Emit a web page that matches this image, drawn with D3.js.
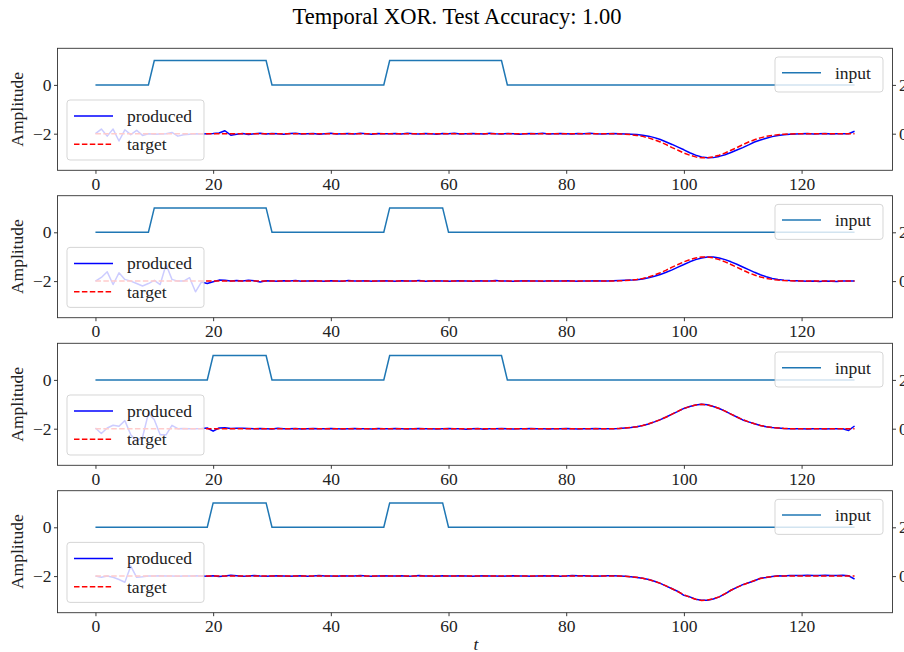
<!DOCTYPE html>
<html>
<head>
<meta charset="utf-8">
<script src="https://cdn.jsdelivr.net/npm/d3@7"></script>
<style>
  body { margin: 0; background: #fff; }
  svg { display: block; font-family: "Liberation Serif", "DejaVu Serif", serif; }
</style>
</head>
<body>
<svg id="chart" width="904" height="652"></svg>
<script>
// --- data ---
const title = "Temporal XOR. Test Accuracy: 1.00";
const steps = d3.range(130);           // t = 0..129
const xTicks = [0, 20, 40, 60, 80, 100, 120];
const leftTicks = [-2, 0];
const rightTicks = [0, 2];
const seriesNames = ["produced", "target", "input"];

const input1 = [
  0,0,0,0,0,0,0,0,0,0,1,1,1,1,1,1,1,1,1,1,
  1,1,1,1,1,1,1,1,1,1,0,0,0,0,0,0,0,0,0,0,
  0,0,0,0,0,0,0,0,0,0,1,1,1,1,1,1,1,1,1,1,
  1,1,1,1,1,1,1,1,1,1,0,0,0,0,0,0,0,0,0,0,
  0,0,0,0,0,0,0,0,0,0,0,0,0,0,0,0,0,0,0,0,
  0,0,0,0,0,0,0,0,0,0,0,0,0,0,0,0,0,0,0,0,
  0,0,0,0,0,0,0,0,0,0
];
const input2 = [
  0,0,0,0,0,0,0,0,0,0,1,1,1,1,1,1,1,1,1,1,
  1,1,1,1,1,1,1,1,1,1,0,0,0,0,0,0,0,0,0,0,
  0,0,0,0,0,0,0,0,0,0,1,1,1,1,1,1,1,1,1,1,
  0,0,0,0,0,0,0,0,0,0,0,0,0,0,0,0,0,0,0,0,
  0,0,0,0,0,0,0,0,0,0,0,0,0,0,0,0,0,0,0,0,
  0,0,0,0,0,0,0,0,0,0,0,0,0,0,0,0,0,0,0,0,
  0,0,0,0,0,0,0,0,0,0
];
const input3 = [
  0,0,0,0,0,0,0,0,0,0,0,0,0,0,0,0,0,0,0,0,
  1,1,1,1,1,1,1,1,1,1,0,0,0,0,0,0,0,0,0,0,
  0,0,0,0,0,0,0,0,0,0,1,1,1,1,1,1,1,1,1,1,
  1,1,1,1,1,1,1,1,1,1,0,0,0,0,0,0,0,0,0,0,
  0,0,0,0,0,0,0,0,0,0,0,0,0,0,0,0,0,0,0,0,
  0,0,0,0,0,0,0,0,0,0,0,0,0,0,0,0,0,0,0,0,
  0,0,0,0,0,0,0,0,0,0
];
const input4 = [
  0,0,0,0,0,0,0,0,0,0,0,0,0,0,0,0,0,0,0,0,
  1,1,1,1,1,1,1,1,1,1,0,0,0,0,0,0,0,0,0,0,
  0,0,0,0,0,0,0,0,0,0,1,1,1,1,1,1,1,1,1,1,
  0,0,0,0,0,0,0,0,0,0,0,0,0,0,0,0,0,0,0,0,
  0,0,0,0,0,0,0,0,0,0,0,0,0,0,0,0,0,0,0,0,
  0,0,0,0,0,0,0,0,0,0,0,0,0,0,0,0,0,0,0,0,
  0,0,0,0,0,0,0,0,0,0
];

const target1 = [
  0,0,0,0,0,0,0,0,0,0,0,0,0,0,0,0,0,0,0,0,
  0,0,0,0,0,0,0,0,0,0,0,0,0,0,0,0,0,0,0,0,
  0,0,0,0,0,0,0,0,0,0,0,0,0,0,0,0,0,0,0,0,
  0,0,0,0,0,0,0,0,0,0,0,0,0,0,0,0,0,0,0,0,
  0,0,0,0,0,0,0,0,0,-0.01,
  -0.02,-0.04,-0.07,-0.11,-0.17,-0.25,-0.34,-0.45,-0.57,-0.68,
  -0.79,-0.88,-0.95,-0.99,-0.99,-0.95,-0.88,-0.79,-0.68,-0.57,
  -0.45,-0.34,-0.25,-0.17,-0.11,-0.07,-0.04,-0.02,-0.01,0,
  0,0,0,0,0,0,0,0,0,0
];
const produced1 = [
  0,0.19,-0.1,0.19,-0.3,0.16,-0.04,0.14,-0.07,0,
  -0.02,-0.01,0,0.05,-0.1,-0.04,-0.02,0,-0.01,0,
  0.01,0.03,0.12,-0.06,-0.02,0.01,-0.03,0,0.02,-0.01,
  0.01,0,-0.02,0.01,0.02,-0.01,0,0.01,-0.02,0,
  0.02,-0.01,0,0.01,-0.01,0.02,0,-0.02,0.01,0,
  0,0.01,-0.01,0.02,0,-0.01,0.01,0,-0.02,0.01,
  0,0.02,-0.01,0,0.01,0,-0.01,0.02,0,-0.01,
  0.01,0,-0.02,0,0.01,0,0.02,-0.01,0,0.01,
  0,-0.01,0.01,0,0.02,0,-0.01,0,0.01,0,
  -0.01,-0.02,-0.03,-0.06,-0.1,-0.16,-0.24,-0.34,-0.44,-0.55,
  -0.66,-0.78,-0.88,-0.95,-0.99,-0.98,-0.93,-0.86,-0.77,-0.67,
  -0.57,-0.46,-0.34,-0.26,-0.19,-0.12,-0.07,-0.04,-0.02,-0.01,
  0,0.01,-0.01,0,0.01,-0.01,0,0,0,0.1
];

const target2 = [
  0,0,0,0,0,0,0,0,0,0,0,0,0,0,0,0,0,0,0,0,
  0,0,0,0,0,0,0,0,0,0,0,0,0,0,0,0,0,0,0,0,
  0,0,0,0,0,0,0,0,0,0,0,0,0,0,0,0,0,0,0,0,
  0,0,0,0,0,0,0,0,0,0,0,0,0,0,0,0,0,0,0,0,
  0,0,0,0,0,0,0,0,0,0.01,
  0.02,0.04,0.07,0.11,0.17,0.25,0.34,0.45,0.57,0.68,
  0.79,0.88,0.95,0.99,0.99,0.95,0.88,0.79,0.68,0.57,
  0.45,0.34,0.25,0.17,0.11,0.07,0.04,0.02,0.01,0,
  0,0,0,0,0,0,0,0,0,0
];
const produced2 = [
  0,0.15,0.38,-0.14,0.34,0.07,0,-0.1,-0.2,-0.1,
  0.03,-0.14,0.68,0.07,0,0,0.14,-0.44,-0.04,-0.1,
  -0.03,0.04,0.03,0,0.02,0,0.03,0.01,-0.04,0.01,
  0,-0.01,0.01,0,0.02,-0.01,0,0.01,0,-0.01,
  0.01,0,-0.01,0.02,0,0,0.01,-0.01,0,0.01,
  0,-0.01,0.01,0,0,0.02,-0.01,0,0.01,0,
  -0.01,0,0.01,0,-0.01,0.01,0,0,0.02,0,
  0,-0.01,0,0.01,0,0,-0.01,0.01,0,0,
  0.01,0,-0.01,0,0,0.01,0,0,0.01,0.02,
  0.03,0.04,0.06,0.09,0.14,0.2,0.27,0.36,0.46,0.57,
  0.68,0.79,0.88,0.95,0.99,0.99,0.95,0.88,0.79,0.69,
  0.58,0.47,0.36,0.26,0.18,0.11,0.07,0.04,0.02,0.01,
  0,-0.01,0,-0.02,0,-0.01,-0.02,0,0,0
];

const target3 = [
  0,0,0,0,0,0,0,0,0,0,0,0,0,0,0,0,0,0,0,0,
  0,0,0,0,0,0,0,0,0,0,0,0,0,0,0,0,0,0,0,0,
  0,0,0,0,0,0,0,0,0,0,0,0,0,0,0,0,0,0,0,0,
  0,0,0,0,0,0,0,0,0,0,0,0,0,0,0,0,0,0,0,0,
  0,0,0,0,0,0,0,0,0,0.01,
  0.03,0.05,0.08,0.13,0.2,0.28,0.37,0.48,0.6,0.72,
  0.83,0.91,0.97,1,0.97,0.91,0.83,0.72,0.6,0.48,
  0.37,0.28,0.2,0.13,0.08,0.05,0.03,0.01,0,0,
  0,0,0,0,0,0,0,0,0,0
];
const produced3 = [
  0.03,-0.2,0.03,0.14,0.1,0.33,-0.25,-0.5,-0.35,0.63,
  0.37,-0.25,-0.25,0.14,0,0.01,0,0,0.01,0.03,
  -0.1,0.03,0.04,0.01,0.02,0.02,0.01,0,0.01,0,
  -0.01,0.02,0,0,0.01,-0.01,0,0.01,0,0,
  0.01,0,-0.01,0,0.01,0,0,-0.01,0.01,0,
  0,0.01,0,-0.01,0,0.01,0,0,-0.01,0,
  0.01,0,0,-0.02,0,0.01,-0.02,0,0,0.01,
  0,-0.01,0,0,0.01,0,0,-0.01,0,0,
  0.01,0,-0.01,0,0,0.01,0,0,0,0.01,
  0.03,0.05,0.08,0.13,0.19,0.28,0.37,0.48,0.6,0.71,
  0.83,0.91,0.97,1,0.98,0.91,0.83,0.72,0.6,0.48,
  0.36,0.28,0.2,0.13,0.08,0.05,0.03,0.01,0,0,
  0,-0.01,0,0,-0.01,0,0,0,-0.07,0.11
];

const target4 = [
  0,0,0,0,0,0,0,0,0,0,0,0,0,0,0,0,0,0,0,0,
  0,0,0,0,0,0,0,0,0,0,0,0,0,0,0,0,0,0,0,0,
  0,0,0,0,0,0,0,0,0,0,0,0,0,0,0,0,0,0,0,0,
  0,0,0,0,0,0,0,0,0,0,0,0,0,0,0,0,0,0,0,0,
  0,0,0,0,0,0,0,0,0,0,
  -0.01,-0.03,-0.05,-0.09,-0.14,-0.21,-0.3,-0.4,-0.52,-0.64,
  -0.76,-0.87,-0.95,-1,-0.98,-0.93,-0.85,-0.72,-0.58,-0.46,
  -0.36,-0.27,-0.18,-0.1,-0.05,-0.02,0,0,0,0,
  0,0,0,0,0,0,0,0,0,0
];
const produced4 = [
  0,-0.05,0,-0.05,-0.14,-0.25,0.41,-0.05,-0.03,0,
  0,0.01,0,0,-0.01,0,0,0.01,0,-0.01,
  0.01,-0.02,0,0.03,0.01,-0.01,0,0.02,0,-0.01,
  0,0.01,0,-0.01,0,0.01,-0.01,0,0.02,0,
  0,-0.01,0.01,0,0,0.02,0,-0.01,0,0.01,
  0,0,0.01,-0.01,0,0.02,0,0,-0.01,0.01,
  0,0,0.01,0,-0.01,0,0.01,0,0,-0.01,
  0,0.01,0,0,-0.01,0,0.01,0,0.01,-0.01,
  0,0.02,0.01,0.01,0,-0.01,0,0.01,0.01,0,
  -0.01,-0.03,-0.06,-0.09,-0.14,-0.21,-0.3,-0.41,-0.52,-0.63,
  -0.79,-0.85,-0.95,-0.99,-0.99,-0.94,-0.85,-0.73,-0.58,-0.46,
  -0.35,-0.27,-0.19,-0.09,-0.06,-0.02,0.01,0,0.02,0.02,
  0.02,0.03,0.02,0.02,0.03,0.02,0.02,0.03,0.01,-0.12
];

const panels = [
  {input: input1, produced: produced1, target: target1},
  {input: input2, produced: produced2, target: target2},
  {input: input3, produced: produced3, target: target3},
  {input: input4, produced: produced4, target: target4}
];

// --- layout ---
const svg = d3.select("#chart");
svg.append("rect").attr("width", 904).attr("height", 652).attr("fill", "#fff");

svg.append("text")
  .attr("x", 457).attr("y", 24)
  .attr("text-anchor", "middle")
  .style("font-size", "22.5px")
  .text(title);

const left = 57.5, right = 892.5, panelH = 122;
const tops = [48.3, 195.7, 343.3, 490.7];
const fs = "17.5px";
const fmt = d3.format("d");   // gives "−2" with a real minus sign

const x = d3.scaleLinear().domain([-6.45, 135.45]).range([left, right]);

function styleAxis(a) {
  a.attr("font-family", null).attr("font-size", null);
  a.select(".domain").remove();
  a.selectAll(".tick line").attr("stroke", "#222").attr("stroke-width", 0.9);
  a.selectAll("text").style("font-size", fs).attr("fill", "#222");
}

function legend(g, x0, y0, w, h, items) {
  g.append("rect")
    .attr("x", x0).attr("y", y0).attr("width", w).attr("height", h)
    .attr("rx", 3)
    .attr("fill", "#fff").attr("fill-opacity", 0.8)
    .attr("stroke", "#ccc").attr("stroke-opacity", 0.8);
  items.forEach(it => {
    g.append("line")
      .attr("x1", x0 + 7).attr("x2", x0 + 46)
      .attr("y1", it.y).attr("y2", it.y)
      .attr("stroke", it.color).attr("stroke-width", 1.5)
      .attr("stroke-dasharray", it.dash || null);
    g.append("text")
      .attr("x", x0 + 60).attr("y", it.y + 6)
      .style("font-size", fs)
      .attr("fill", "#222")
      .text(it.label);
  });
}

panels.forEach((p, i) => {
  const top = tops[i], bottom = top + panelH;
  const yL = d3.scaleLinear().domain([-3.5, 1.5]).range([bottom, top]);
  const yR = d3.scaleLinear().domain([-1.5, 3.5]).range([bottom, top]);
  const g = svg.append("g");

  const lineR = d3.line().x((d, k) => x(steps[k])).y(d => yR(d));
  const lineL = d3.line().x((d, k) => x(steps[k])).y(d => yL(d));

  g.append("path").datum(p.produced)
    .attr("fill", "none").attr("stroke", "blue").attr("stroke-width", 1.5)
    .attr("stroke-linejoin", "round")
    .attr("d", lineR);
  g.append("path").datum(p.target)
    .attr("fill", "none").attr("stroke", "red").attr("stroke-width", 1.5)
    .attr("stroke-dasharray", "5.5,2.4")
    .attr("d", lineR);
  g.append("path").datum(p.input)
    .attr("fill", "none").attr("stroke", "#1f77b4").attr("stroke-width", 1.5)
    .attr("d", lineL);

  // frame
  g.append("rect")
    .attr("x", left).attr("y", top)
    .attr("width", right - left).attr("height", panelH)
    .attr("fill", "none").attr("stroke", "#333").attr("stroke-width", 0.9);

  // axes
  g.append("g").attr("transform", `translate(0,${bottom})`)
    .call(d3.axisBottom(x).tickValues(xTicks).tickFormat(fmt).tickSize(3.5).tickPadding(3.5))
    .call(styleAxis);
  g.append("g").attr("transform", `translate(${left},0)`)
    .call(d3.axisLeft(yL).tickValues(leftTicks).tickFormat(fmt).tickSize(3.5).tickPadding(2.5))
    .call(styleAxis);
  g.append("g").attr("transform", `translate(${right},0)`)
    .call(d3.axisRight(yR).tickValues(rightTicks).tickFormat(fmt).tickSize(3.5).tickPadding(3))
    .call(styleAxis);

  g.append("text")
    .attr("transform", `translate(17,${top + panelH / 2}) rotate(-90)`)
    .attr("text-anchor", "middle").attr("dominant-baseline", "central")
    .style("font-size", fs).attr("fill", "#222")
    .text("Amplitude");

  legend(g, 67, top + 51.7, 137, 60, [
    {label: seriesNames[0], color: "blue", y: top + 67.7},
    {label: seriesNames[1], color: "red", dash: "5.5,2.4", y: top + 96}
  ]);
  legend(g, 775, top + 8.7, 108, 35, [
    {label: seriesNames[2], color: "#1f77b4", y: top + 24.4}
  ]);
});

svg.append("text")
  .attr("x", 476).attr("y", 650)
  .attr("text-anchor", "middle")
  .style("font-size", fs).style("font-style", "italic")
  .attr("fill", "#222")
  .text("t");
</script>
</body>
</html>
